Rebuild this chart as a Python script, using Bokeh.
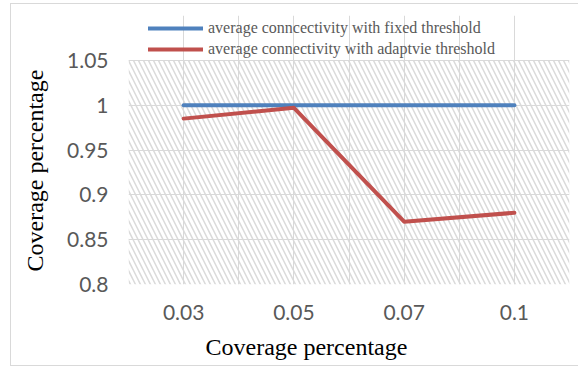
from bokeh.plotting import figure
from bokeh.models import Range1d, FixedTicker, Legend, LegendItem, Title
from bokeh.embed import file_html
from bokeh.resources import INLINE

# Chart data
categories = ["0.03", "0.05", "0.07", "0.1"]
fixed_threshold = [1.0, 1.0, 1.0, 1.0]
adaptive_threshold = [0.985, 0.997, 0.87, 0.88]
y_ticks = [0.8, 0.85, 0.9, 0.95, 1.0, 1.05]
y_tick_labels = ["0.8", "0.85", "0.9", "0.95", "1", "1.05"]
series_names = ["average conncectivity with fixed threshold",
                "average connectivity with adaptvie threshold"]
axis_title = "Coverage percentage"

x_pos = list(range(len(categories)))
x_lo, x_hi = -0.5, len(categories) - 0.5
y_lo, y_hi = y_ticks[0], y_ticks[-1]
# headroom above the plot area that holds the legend
y_view_top = y_hi + 0.05

GRID = "#d9d9d9"
TICK_TXT = "#595959"

p = figure(width=578, height=368, output_backend="svg", toolbar_location=None,
           x_range=Range1d(x_lo, x_hi), y_range=Range1d(y_lo, y_view_top),
           min_border_left=128, min_border_right=9, min_border_top=15,
           min_border_bottom=83, outline_line_color=None,
           background_fill_color="white", border_fill_color=None)

# chart-area frame (open on the right side), painted behind the transparent canvas
line = "linear-gradient(#d9d9d9, #d9d9d9)"
p.styles = {
    "background-color": "white",
    "background-image": f"{line}, {line}, {line}",
    "background-position": "10px 3px, 10px 3px, 10px 365px",
    "background-size": "1px 363px, 568px 1px, 568px 1px",
    "background-repeat": "no-repeat",
}

# hatched plot-area background
p.quad(left=x_lo, right=x_hi, bottom=y_lo, top=y_hi, fill_color="white",
       line_color=None, hatch_pattern="\\", hatch_color="#dadada",
       hatch_weight=1.5, hatch_scale=10, level="image")

# grid: horizontal at each y tick, vertical at category centres and boundaries
p.ygrid.ticker = FixedTicker(ticks=y_ticks)
p.xgrid.ticker = FixedTicker(ticks=[x_lo + 0.5 * i for i in range(2 * len(categories) + 1)])
p.xgrid.bounds = (y_lo, y_hi)
p.ygrid.bounds = (x_lo, x_hi)
for g in (p.xgrid, p.ygrid):
    g.grid_line_color = GRID
    g.grid_line_width = 1

# axes
p.xaxis.ticker = FixedTicker(ticks=x_pos)
p.xaxis.major_label_overrides = {i: c for i, c in zip(x_pos, categories)}
p.yaxis.ticker = FixedTicker(ticks=y_ticks)
p.yaxis.major_label_overrides = {t: s for t, s in zip(y_ticks, y_tick_labels)}
for ax in (p.xaxis, p.yaxis):
    ax.axis_line_color = None
    ax.major_tick_line_color = None
    ax.minor_tick_line_color = None
    ax.major_tick_out = 0
    ax.major_tick_in = 0
    ax.major_label_text_font = "Lato"
    ax.major_label_text_font_size = "21px"
    ax.major_label_text_color = TICK_TXT
p.yaxis.major_label_standoff = 20
p.xaxis.major_label_standoff = 20

title_style = dict(text_font="Liberation Serif", text_font_size="24px",
                   text_font_style="normal", text_color="black")
# axis titles, each placed along its side of the plot area
p.add_layout(Title(text=axis_title, align="left", offset=77, standoff=18,
                   **title_style), "below")
p.add_layout(Title(text=axis_title, align="left", offset=13, standoff=34,
                   **title_style), "left")

# series
r_fixed = p.line(x_pos, fixed_threshold, line_color="#4f81bd", line_width=4,
                 line_cap="round", line_join="round")
r_adapt = p.line(x_pos, adaptive_threshold, line_color="#c0504d", line_width=4,
                 line_cap="round", line_join="round")

legend = Legend(items=[LegendItem(label=series_names[0], renderers=[r_fixed]),
                       LegendItem(label=series_names[1], renderers=[r_adapt])],
                location=(20, 225), orientation="vertical",
                border_line_color=None, background_fill_alpha=0,
                label_text_font="Liberation Serif", label_text_font_size="16px",
                label_text_color=TICK_TXT, glyph_width=55, glyph_height=20,
                label_height=20, label_standoff=5, spacing=1, padding=0,
                margin=0)
p.add_layout(legend, "center")

open("out.html", "w").write(file_html(p, INLINE))
